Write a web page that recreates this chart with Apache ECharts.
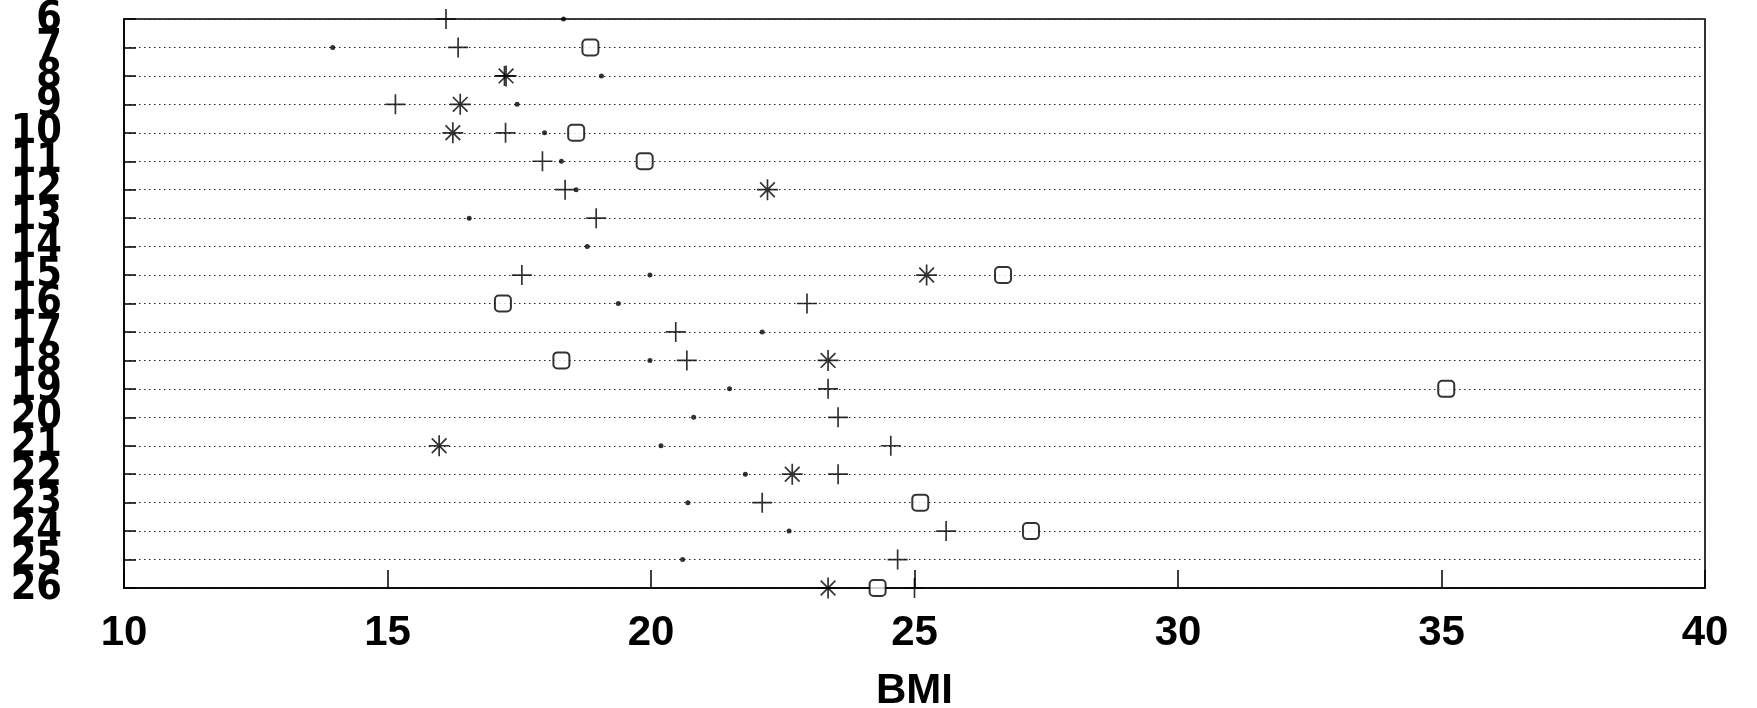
<!DOCTYPE html>
<html><head><meta charset="utf-8">
<script src="https://cdn.jsdelivr.net/npm/echarts@6/dist/echarts.min.js"></script>
<style>html,body{margin:0;padding:0;background:#fff}#c{width:1757px;height:708px}</style>
</head><body><div id="c"></div>
<script>
// Rows (subjects) 6..26, top to bottom
const categories = ['6','7','8','9','10','11','12','13','14','15','16','17','18','19','20','21','22','23','24','25','26'];
const xTickLabels = ['10','15','20','25','30','35','40'];
// BMI values per row for each marker type (null = no marker)
const plusValues   = [16.11,16.34,17.22,15.15,17.24,17.94,18.37,18.96,null,17.55,22.96,20.47,20.68,23.36,23.55,24.55,23.55,22.11,25.60,24.68,25.00];
const starValues   = [null,null,17.25,16.38,16.24,null,22.21,null,null,25.23,null,null,23.36,null,null,15.98,22.68,null,null,null,23.36];
const squareValues = [null,18.85,null,null,18.58,19.88,null,null,null,26.68,17.19,null,18.30,35.09,null,null,null,25.11,27.21,null,24.30];
const dotValues    = [18.34,13.96,19.06,17.46,17.98,18.30,18.58,16.55,18.79,19.98,19.38,22.11,19.98,21.49,20.81,20.19,21.79,20.70,22.62,20.60,null];

function pts(vals){
  const out = [];
  vals.forEach((v,i)=>{ if(v!==null) out.push([v, categories[i]]); });
  return out;
}
const chart = echarts.init(document.getElementById('c'), null, {renderer:'canvas'});
const strokeStyle = {color:'rgba(0,0,0,0)', borderColor:'#000', borderWidth:1.7};
chart.setOption({
  animation:false,
  backgroundColor:'#fff',
  grid:{left:124, right:52, top:19, bottom:120, containLabel:false, outerBoundsMode:'none', show:true, borderColor:'#000', borderWidth:1.6, backgroundColor:'transparent'},
  xAxis:{
    type:'value', min:10, max:40, interval:5,
    name:'BMI', nameLocation:'middle', nameGap:82,
    nameTextStyle:{fontFamily:'Liberation Sans, Arial, sans-serif', fontSize:42, fontWeight:'bold', color:'#000'},
    axisLine:{show:true, lineStyle:{color:'#000', width:1.6}},
    axisTick:{show:true, inside:true, length:18, lineStyle:{color:'#000', width:1.5}},
    splitLine:{show:false},
    axisLabel:{margin:24, fontFamily:'Liberation Sans, Arial, sans-serif', fontSize:42, fontWeight:'bold', color:'#000',
      formatter:(v)=>{ const s=String(v); return xTickLabels.indexOf(s)>=0 ? s : ''; }}
  },
  yAxis:{
    type:'category', data:categories, inverse:true, boundaryGap:false,
    axisLine:{show:true, lineStyle:{color:'#000', width:1.6}},
    axisTick:{show:true, inside:true, length:12, interval:0, lineStyle:{color:'#000', width:1.5}},
    splitLine:{show:true, interval:0, lineStyle:{color:'#222', width:1, type:[1.5,3.5]}},
    axisLabel:{interval:0, hideOverlap:false, margin:62, fontFamily:"'Liberation Sans Narrow','DejaVu Sans Condensed','Liberation Sans',sans-serif", fontSize:41, fontWeight:'bold', color:'#000'}
  },
  series:[
    {type:'scatter', silent:true, data:pts(dotValues), symbol:'circle', symbolSize:5, itemStyle:{color:'#000'}},
    {type:'scatter', silent:true, data:pts(squareValues), symbol:'roundRect', symbolSize:16, itemStyle:{color:'#fff', borderColor:'#000', borderWidth:2}},
    {type:'scatter', silent:true, data:pts(plusValues), symbol:'path://M10,0L10,20M0,10L20,10', symbolSize:20, itemStyle:strokeStyle},
    {type:'scatter', silent:true, data:pts(starValues), symbol:'path://M10,0L10,20M0,10L20,10M3,3L17,17M3,17L17,3', symbolSize:21, itemStyle:strokeStyle}
  ]
});
</script></body></html>
